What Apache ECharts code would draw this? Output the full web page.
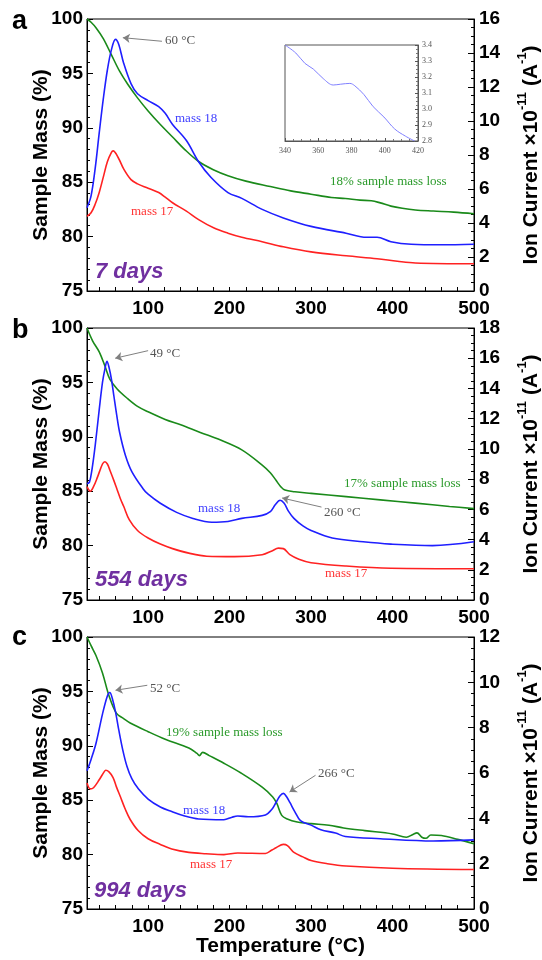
<!DOCTYPE html>
<html>
<head>
<meta charset="utf-8">
<script src="https://cdn.jsdelivr.net/npm/echarts@6/dist/echarts.min.js"></script>
<style>
html,body{margin:0;padding:0;background:#fff;}
#c{width:542px;height:960px;}
</style>
</head>
<body>
<div id="c"></div>
<script>
// ---------- DATA ----------
const xTickLabels = [100, 200, 300, 400, 500];
const xMinorTicks = [40,60,80,100,120,140,160,180,200,220,240,260,280,300,320,340,360,380,400,420,440,460,480];

// Panel a (7 days)
const aMassT = [25,30,36,45,55,65,75,87,100,115,130,145,162,180,198,220,250,275,300,325,342,360,374,385,398,412,428,450,475,500];
const aMass  = [100,99.7,99.2,98.2,96.7,95.2,94.0,92.75,91.55,90.3,89.15,88.0,86.9,86.15,85.6,85.1,84.6,84.2,83.9,83.6,83.5,83.35,83.3,83.1,82.8,82.6,82.45,82.35,82.25,82.1];
const a18T = [25,30,35,40,45,50,55,60,64,70,79,87,100,113,121,130,147,162,177,198,215,240,266,300,343,368,381,398,423,460,500];
const a18  = [4.9,5.6,7.2,9.3,11.3,13.0,14.2,14.8,14.5,13.4,12.2,11.6,11.2,10.85,10.45,9.8,8.85,7.6,6.69,5.79,5.45,4.8,4.3,3.8,3.4,3.16,3.16,2.9,2.75,2.72,2.75];
const a17T = [25,30,35,40,45,50,55,57,64,70,79,87,100,113,121,130,147,162,181,198,215,240,266,300,343,381,406,428,500];
const a17  = [4.4,4.6,5.1,5.8,6.7,7.6,8.15,8.24,7.78,7.18,6.55,6.3,6.05,5.79,5.52,5.19,4.7,4.2,3.7,3.4,3.16,2.9,2.6,2.3,2.07,1.9,1.75,1.65,1.6];
// inset of panel a (mass 18, 340-420 °C)
const insetT = [340,346.5,352,357,363,369,373.5,379,382,387.5,393,399.5,406,412.5,418];
const insetV = [3.4,3.35,3.285,3.25,3.19,3.15,3.155,3.16,3.145,3.09,3.015,2.95,2.875,2.83,2.8];

// Panel b (554 days)
const bMassT = [25,32,40,47,53,62,75,87,100,121,140,164,189,215,240,250,257,263,268,280,300,343,385,428,470,500];
const bMass  = [100,98.8,97.8,96.5,95.3,94.4,93.5,92.8,92.3,91.6,91.1,90.4,89.7,88.8,87.4,86.7,86.0,85.4,85.1,84.95,84.8,84.5,84.2,83.9,83.6,83.4];
const b18T = [25,28,31,35,40,44,47,49.5,52,55,58,61,65,72,80,94,100,115,135,155,178,198,215,240,250,256,262,267,272,279,290,300,326,364,398,449,500];
const b18  = [7.7,7.8,8.6,10.2,12.6,14.4,15.3,15.8,15.4,14.6,13.5,12.4,11.1,9.6,8.5,7.35,7.0,6.4,5.8,5.4,5.15,5.2,5.4,5.6,5.85,6.3,6.6,6.4,5.9,5.4,4.9,4.6,4.1,3.85,3.7,3.6,3.85];
const b17T = [25,29,33,38,44,47,50,53,58,62,66,70,77,87,100,115,130,150,172,206,240,252,260,266,274,285,300,343,398,500];
const b17  = [7.5,7.2,7.5,8.15,9.0,9.15,9.0,8.6,7.9,7.3,6.7,6.2,5.3,4.6,4.1,3.7,3.4,3.1,2.9,2.87,3.0,3.25,3.43,3.4,3.0,2.7,2.47,2.25,2.1,2.07];

// Panel c (994 days)
const cMassT = [25,30,36,44,52,61,70,78,100,121,150,160,163,167,175,193,214,240,253,258,264,270,283,300,322,340,366,400,417,425,430,436,441,447,460,480,500];
const cMass  = [100,99.2,98.3,96.7,94.6,93.0,92.5,92.1,91.3,90.6,89.8,89.3,89.1,89.4,89.1,88.4,87.5,86.2,85.3,84.7,83.6,83.3,83.0,82.85,82.7,82.45,82.2,81.9,81.6,81.85,82.0,81.6,81.5,81.8,81.75,81.4,81.0];
const c18T = [25,30,36,44,50,53,56,60,64,69,74,80,88,100,115,129,145,162,193,203,210,223,244,252,257,262,266,270,274,280,287,300,312,330,342,385,450,500];
const c18  = [6.1,6.6,7.3,8.6,9.4,9.55,9.3,8.7,7.9,7.0,6.3,5.75,5.3,4.85,4.5,4.3,4.1,3.97,3.94,4.05,4.1,4.07,4.15,4.4,4.7,5.0,5.1,4.95,4.7,4.3,3.9,3.7,3.5,3.35,3.2,3.1,3.0,3.05];
const c17T = [25,29,33,40,46,48,52,57,61,66,72,78,88,100,115,129,150,171,193,210,244,252,257,266,271,279,290,300,320,343,400,500];
const c17  = [5.56,5.3,5.35,5.7,6.05,6.12,6.05,5.8,5.4,4.95,4.4,3.95,3.45,3.1,2.85,2.65,2.5,2.44,2.4,2.47,2.45,2.6,2.7,2.85,2.8,2.5,2.3,2.14,2.0,1.9,1.8,1.74];

const rightMax = [16, 18, 12];

// ---------- STYLE ----------
const SANS = 'Liberation Sans, Arial, sans-serif';
const SERIF = 'Liberation Serif, Times New Roman, serif';
const BLUE = '#1f1fff', RED = '#ff2222', GREEN = '#1a8a1a';
const grids = [
  {left: 87, right: 68, top: 19, height: 272},
  {left: 87, right: 68, top: 328, height: 272},
  {left: 87, right: 68, top: 637, height: 272}
];

function zip(t, v){ return t.map((x,i)=>[x, v[i]]); }

const xAxes = [], yAxes = [], series = [];
grids.forEach((g, i) => {
  g.show = true; g.borderColor = '#000'; g.borderWidth = 1; g.backgroundColor = 'transparent';
  g.containLabel = false; g.outerBoundsMode = 'none';
  xAxes.push({
    type: 'value', gridIndex: i, min: 25, max: 500,
    axisLine: {show: true, lineStyle: {color: '#000', width: 1}},
    axisTick: {show: true, inside: true, length: 4, customValues: xMinorTicks, lineStyle: {color: '#000'}},
    axisLabel: {customValues: xTickLabels, fontSize: 19, fontWeight: 'bold', color: '#000', margin: 8, fontFamily: SANS},
    splitLine: {show: false},
    name: i === 2 ? 'Temperature (°C)' : '',
    nameLocation: 'middle', nameGap: 27, nameMoveOverlap: false,
    nameTextStyle: {fontSize: 21, fontWeight: 'bold', color: '#000', fontFamily: SANS}
  });
  yAxes.push({
    type: 'value', gridIndex: i, min: 75, max: 100, interval: 5, position: 'left',
    axisLine: {show: true, lineStyle: {color: '#000'}},
    axisTick: {show: true, inside: true, length: 6, lineStyle: {color: '#000'}},
    minorTick: {show: true, splitNumber: 5, length: 3, lineStyle: {color: '#000'}},
    axisLabel: {fontSize: 19, fontWeight: 'bold', color: '#000', margin: 4, fontFamily: SANS},
    splitLine: {show: false},
    name: 'Sample Mass (%)', nameLocation: 'middle', nameRotate: 90, nameGap: 35,
    nameMoveOverlap: false,
    nameTextStyle: {fontSize: 21, fontWeight: 'bold', color: '#000', fontFamily: SANS}
  });
  yAxes.push({
    type: 'value', gridIndex: i, min: 0, max: rightMax[i], interval: 2, position: 'right',
    axisLine: {show: true, lineStyle: {color: '#000'}},
    axisTick: {show: true, inside: true, length: 6, lineStyle: {color: '#000'}},
    minorTick: {show: true, splitNumber: 4, length: 3, lineStyle: {color: '#000'}},
    axisLabel: {fontSize: 19, fontWeight: 'bold', color: '#000', margin: 5, fontFamily: SANS},
    splitLine: {show: false},
    name: '{a|Ion Current ×10}{s|-11}{a| (A}{s|-1}{a|)}',
    nameLocation: 'middle', nameRotate: 90, nameGap: 42,
    nameMoveOverlap: false,
    nameTextStyle: {
      color: '#000', fontFamily: SANS,
      rich: {
        a: {fontSize: 21, fontWeight: 'bold', fontFamily: SANS, color: '#000', lineHeight: 26, verticalAlign: 'bottom'},
        s: {fontSize: 13, fontWeight: 'bold', fontFamily: SANS, color: '#000', lineHeight: 26, verticalAlign: 'top'}
      }
    }
  });
});

// inset grid
grids.push({left: 285, top: 45, width: 133, height: 96, show: true, borderColor: '#555', borderWidth: 1, backgroundColor: '#fff', containLabel: false, outerBoundsMode: 'none'});
xAxes.push({
  type: 'value', gridIndex: 3, min: 340, max: 420, interval: 20,
  axisLine: {lineStyle: {color: '#555'}},
  axisTick: {inside: true, length: 3, lineStyle: {color: '#555'}},
  minorTick: {show: true, splitNumber: 4, length: 2, lineStyle: {color: '#777'}},
  axisLabel: {fontSize: 8, color: '#555', margin: 6, fontFamily: SERIF},
  splitLine: {show: false}
});
yAxes.push({
  type: 'value', gridIndex: 3, min: 2.8, max: 3.4, interval: 0.1, position: 'right',
  axisLine: {lineStyle: {color: '#555'}},
  axisTick: {inside: true, length: 3, lineStyle: {color: '#555'}},
  minorTick: {show: true, splitNumber: 4, length: 2, lineStyle: {color: '#777'}},
  axisLabel: {fontSize: 8, color: '#555', margin: 4, fontFamily: SERIF, formatter: v => v.toFixed(1)},
  splitLine: {show: false}
});

function line(name, xi, yi, data, color, width, extra){
  return Object.assign({
    name, type: 'line', xAxisIndex: xi, yAxisIndex: yi, data,
    showSymbol: false, symbol: 'none', smooth: 0.35, clip: true,
    lineStyle: {color, width}, itemStyle: {color}, z: 3
  }, extra || {});
}
function arrows(pairs){
  return {
    silent: true, symbol: ['none', 'arrow'], symbolSize: 7, animation: false,
    lineStyle: {color: '#808080', width: 1, type: 'solid'},
    label: {show: false},
    data: pairs.map(p => [{coord: p[0]}, {coord: p[1]}])
  };
}

series.push(line('a mass', 0, 0, zip(aMassT, aMass), GREEN, 1.6));
series.push(line('a 17', 0, 1, zip(a17T, a17), RED, 1.6));
series.push(line('a 18', 0, 1, zip(a18T, a18), BLUE, 1.6, {markLine: arrows([[[117, 14.69], [69, 14.9]]])}));
series.push(line('inset', 3, 6, zip(insetT, insetV), '#8080ff', 1, {z: 6}));

series.push(line('b mass', 1, 2, zip(bMassT, bMass), GREEN, 1.6));
series.push(line('b 17', 1, 3, zip(b17T, b17), RED, 1.6));
series.push(line('b 18', 1, 3, zip(b18T, b18), BLUE, 1.6, {markLine: arrows([[[100, 16.5], [59.6, 16.0]], [[312.8, 6.15], [264.5, 6.75]]])}));

series.push(line('c mass', 2, 4, zip(cMassT, cMass), GREEN, 1.6));
series.push(line('c 17', 2, 5, zip(c17T, c17), RED, 1.6));
series.push(line('c 18', 2, 5, zip(c18T, c18), BLUE, 1.6, {markLine: arrows([[[99, 9.87], [60, 9.65]], [[305.5, 5.9], [273.6, 5.16]]])}));

function txt(text, x, y, color, font){
  return {type: 'text', x, y, z: 50, style: {text, fill: color, font, textVerticalAlign: 'middle', textAlign: 'left'}};
}
const serif = '13px ' + SERIF;
const days = 'italic bold 22px ' + SANS;
const letter = 'bold 27px ' + SANS;
const graphic = [
  txt('a', 12, 22, '#000', letter),
  txt('b', 12, 331, '#000', letter),
  txt('c', 12, 638, '#000', letter),
  txt('60 °C', 165, 41, '#555', serif),
  txt('mass 18', 175, 119, '#4040ff', serif),
  txt('mass 17', 131, 212, '#ff3333', serif),
  txt('18% sample mass loss', 330, 182, '#2a9a2a', serif),
  txt('7 days', 95, 272, '#7030a0', days),
  txt('49 °C', 150, 354, '#555', serif),
  txt('mass 18', 198, 509, '#4040ff', serif),
  txt('260 °C', 324, 513, '#555', serif),
  txt('17% sample mass loss', 344, 484, '#2a9a2a', serif),
  txt('mass 17', 325, 574, '#ff3333', serif),
  txt('554 days', 95, 580, '#7030a0', days),
  txt('52 °C', 150, 689, '#555', serif),
  txt('19% sample mass loss', 166, 733, '#2a9a2a', serif),
  txt('266 °C', 318, 774, '#555', serif),
  txt('mass 18', 183, 811, '#4040ff', serif),
  txt('mass 17', 190, 865, '#ff3333', serif),
  txt('994 days', 94, 891, '#7030a0', days)
];

const chart = echarts.init(document.getElementById('c'), null, {renderer: 'canvas'});
chart.setOption({
  animation: false,
  backgroundColor: '#fff',
  grid: grids, xAxis: xAxes, yAxis: yAxes, series, graphic
});
</script>
</body>
</html>
